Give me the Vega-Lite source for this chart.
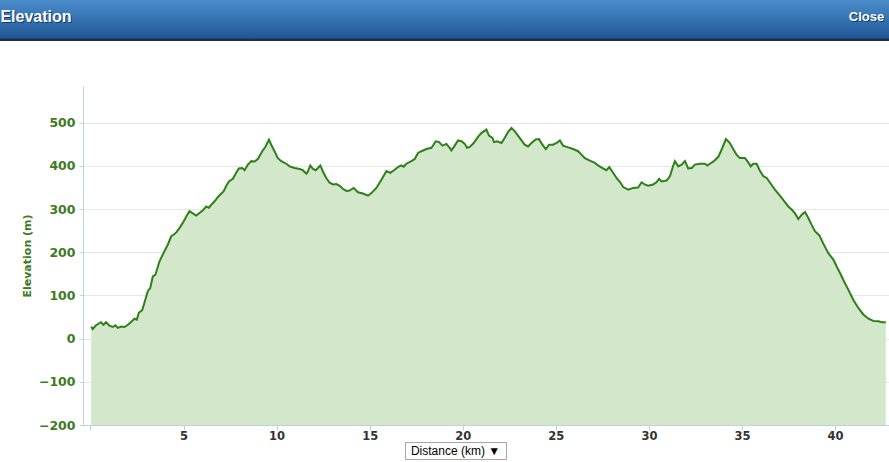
{
  "$schema": "https://vega.github.io/schema/vega-lite/v6.json",
  "padding": 0,
  "background": "white",
  "spacing": 45,
  "config": {"view": {"stroke": null}},
  "vconcat": [
    {
      "spacing": 0,
      "hconcat": [
        {
          "width": 77, "height": 41,
          "data": {"values": [{"label": "Elevation"}]},
          "layer": [
            {"mark": {"type": "rect", "color": {"gradient": "linear", "x1": 0, "y1": 0, "x2": 0, "y2": 1, "stops": [{"offset": 0, "color": "#4c8dcb"}, {"offset": 0.93, "color": "#1f5796"}, {"offset": 0.955, "color": "#1a2f48"}, {"offset": 1, "color": "#1a2f48"}]}}},
            {"mark": {"type": "text", "color": "#173a63", "font": "Liberation Sans", "fontSize": 16, "fontWeight": "bold", "dx": -1.5, "dy": -3}, "encoding": {"text": {"field": "label"}}},
            {"mark": {"type": "text", "color": "#ffffff", "font": "Liberation Sans", "fontSize": 16, "fontWeight": "bold", "dx": -2.5, "dy": -4}, "encoding": {"text": {"field": "label"}}}
          ]
        },
        {
          "width": 767, "height": 41,
          "data": {"values": [{"label": ""}]},
          "mark": {"type": "rect", "color": {"gradient": "linear", "x1": 0, "y1": 0, "x2": 0, "y2": 1, "stops": [{"offset": 0, "color": "#4c8dcb"}, {"offset": 0.93, "color": "#1f5796"}, {"offset": 0.955, "color": "#1a2f48"}, {"offset": 1, "color": "#1a2f48"}]}}
        },
        {
          "width": 45, "height": 41,
          "data": {"values": [{"label": "Close"}]},
          "layer": [
            {"mark": {"type": "rect", "color": {"gradient": "linear", "x1": 0, "y1": 0, "x2": 0, "y2": 1, "stops": [{"offset": 0, "color": "#4c8dcb"}, {"offset": 0.93, "color": "#1f5796"}, {"offset": 0.955, "color": "#1a2f48"}, {"offset": 1, "color": "#1a2f48"}]}}},
            {"mark": {"type": "text", "color": "#173a63", "font": "Liberation Sans", "fontSize": 13, "fontWeight": "bold", "dx": 1, "dy": -2.5}, "encoding": {"text": {"field": "label"}}},
            {"mark": {"type": "text", "color": "#ffffff", "font": "Liberation Sans", "fontSize": 13, "fontWeight": "bold", "dy": -3.5}, "encoding": {"text": {"field": "label"}}}
          ]
        }
      ]
    },
    {
      "spacing": -2,
      "vconcat": [
        {
          "spacing": 0,
          "hconcat": [
            {"width": 21, "height": 339, "data": {"values": [{}]}, "mark": {"type": "rect", "opacity": 0}},
            {
              "width": 806, "height": 339,
              "data": {"values": [
                {"km": 0.04, "elevation": 28}, {"km": 0.12, "elevation": 22}, {"km": 0.30, "elevation": 31}, {"km": 0.57, "elevation": 38}, {"km": 0.70, "elevation": 32}, {"km": 0.84, "elevation": 38}, {"km": 1.02, "elevation": 30}, {"km": 1.20, "elevation": 27}, {"km": 1.34, "elevation": 31}, {"km": 1.47, "elevation": 25}, {"km": 1.65, "elevation": 28}, {"km": 1.83, "elevation": 27}, {"km": 2.01, "elevation": 32}, {"km": 2.19, "elevation": 39}, {"km": 2.37, "elevation": 46}, {"km": 2.49, "elevation": 44}, {"km": 2.60, "elevation": 60}, {"km": 2.78, "elevation": 66}, {"km": 2.90, "elevation": 83}, {"km": 3.08, "elevation": 110}, {"km": 3.21, "elevation": 117}, {"km": 3.35, "elevation": 144}, {"km": 3.49, "elevation": 148}, {"km": 3.71, "elevation": 179}, {"km": 3.89, "elevation": 195}, {"km": 4.16, "elevation": 218}, {"km": 4.34, "elevation": 237}, {"km": 4.48, "elevation": 241}, {"km": 4.61, "elevation": 246}, {"km": 4.78, "elevation": 256}, {"km": 4.96, "elevation": 268}, {"km": 5.14, "elevation": 282}, {"km": 5.32, "elevation": 295}, {"km": 5.50, "elevation": 290}, {"km": 5.68, "elevation": 285}, {"km": 5.86, "elevation": 291}, {"km": 6.04, "elevation": 297}, {"km": 6.22, "elevation": 306}, {"km": 6.36, "elevation": 303}, {"km": 6.49, "elevation": 310}, {"km": 6.67, "elevation": 318}, {"km": 6.85, "elevation": 328}, {"km": 7.03, "elevation": 336}, {"km": 7.15, "elevation": 341}, {"km": 7.30, "elevation": 354}, {"km": 7.44, "elevation": 364}, {"km": 7.65, "elevation": 370}, {"km": 7.83, "elevation": 384}, {"km": 7.97, "elevation": 394}, {"km": 8.15, "elevation": 395}, {"km": 8.28, "elevation": 390}, {"km": 8.46, "elevation": 403}, {"km": 8.64, "elevation": 411}, {"km": 8.82, "elevation": 410}, {"km": 8.99, "elevation": 416}, {"km": 9.23, "elevation": 434}, {"km": 9.41, "elevation": 445}, {"km": 9.59, "elevation": 461}, {"km": 9.71, "elevation": 449}, {"km": 9.89, "elevation": 434}, {"km": 10.07, "elevation": 418}, {"km": 10.25, "elevation": 411}, {"km": 10.52, "elevation": 405}, {"km": 10.70, "elevation": 399}, {"km": 10.97, "elevation": 395}, {"km": 11.24, "elevation": 393}, {"km": 11.41, "elevation": 390}, {"km": 11.60, "elevation": 382}, {"km": 11.68, "elevation": 387}, {"km": 11.81, "elevation": 401}, {"km": 11.95, "elevation": 393}, {"km": 12.10, "elevation": 390}, {"km": 12.22, "elevation": 395}, {"km": 12.35, "elevation": 401}, {"km": 12.49, "elevation": 387}, {"km": 12.67, "elevation": 372}, {"km": 12.85, "elevation": 361}, {"km": 13.03, "elevation": 357}, {"km": 13.21, "elevation": 358}, {"km": 13.39, "elevation": 354}, {"km": 13.56, "elevation": 347}, {"km": 13.75, "elevation": 342},
                {"km": 13.92, "elevation": 343}, {"km": 14.14, "elevation": 349}, {"km": 14.37, "elevation": 339}, {"km": 14.64, "elevation": 336}, {"km": 14.91, "elevation": 331}, {"km": 15.09, "elevation": 337}, {"km": 15.36, "elevation": 349}, {"km": 15.63, "elevation": 368}, {"km": 15.90, "elevation": 388}, {"km": 16.11, "elevation": 384}, {"km": 16.34, "elevation": 391}, {"km": 16.58, "elevation": 399}, {"km": 16.70, "elevation": 401}, {"km": 16.83, "elevation": 398}, {"km": 16.97, "elevation": 405}, {"km": 17.24, "elevation": 411}, {"km": 17.42, "elevation": 416}, {"km": 17.60, "elevation": 430}, {"km": 17.78, "elevation": 434}, {"km": 18.05, "elevation": 439}, {"km": 18.32, "elevation": 442}, {"km": 18.55, "elevation": 457}, {"km": 18.73, "elevation": 455}, {"km": 18.91, "elevation": 447}, {"km": 19.12, "elevation": 451}, {"km": 19.30, "elevation": 442}, {"km": 19.39, "elevation": 436}, {"km": 19.57, "elevation": 447}, {"km": 19.75, "elevation": 459}, {"km": 19.93, "elevation": 457}, {"km": 20.11, "elevation": 451}, {"km": 20.23, "elevation": 442}, {"km": 20.38, "elevation": 444}, {"km": 20.59, "elevation": 453}, {"km": 20.82, "elevation": 467}, {"km": 21.00, "elevation": 476}, {"km": 21.27, "elevation": 484}, {"km": 21.41, "elevation": 470}, {"km": 21.60, "elevation": 465}, {"km": 21.68, "elevation": 455}, {"km": 21.84, "elevation": 457}, {"km": 22.08, "elevation": 453}, {"km": 22.26, "elevation": 465}, {"km": 22.44, "elevation": 479}, {"km": 22.62, "elevation": 488}, {"km": 22.80, "elevation": 480}, {"km": 22.97, "elevation": 470}, {"km": 23.16, "elevation": 459}, {"km": 23.33, "elevation": 449}, {"km": 23.51, "elevation": 445}, {"km": 23.69, "elevation": 453}, {"km": 23.92, "elevation": 461}, {"km": 24.10, "elevation": 462}, {"km": 24.28, "elevation": 449}, {"km": 24.46, "elevation": 439}, {"km": 24.64, "elevation": 449}, {"km": 24.85, "elevation": 449}, {"km": 25.04, "elevation": 453}, {"km": 25.22, "elevation": 459}, {"km": 25.39, "elevation": 447}, {"km": 25.66, "elevation": 443}, {"km": 25.93, "elevation": 439}, {"km": 26.20, "elevation": 434}, {"km": 26.38, "elevation": 426}, {"km": 26.56, "elevation": 418}, {"km": 26.83, "elevation": 412}, {"km": 27.10, "elevation": 407}, {"km": 27.27, "elevation": 401}, {"km": 27.51, "elevation": 395}, {"km": 27.72, "elevation": 390}, {"km": 27.87, "elevation": 397}, {"km": 28.08, "elevation": 384}, {"km": 28.26, "elevation": 372}, {"km": 28.48, "elevation": 361},
                {"km": 28.62, "elevation": 351}, {"km": 28.89, "elevation": 345}, {"km": 29.16, "elevation": 349}, {"km": 29.42, "elevation": 350}, {"km": 29.61, "elevation": 362}, {"km": 29.78, "elevation": 357}, {"km": 29.96, "elevation": 354}, {"km": 30.23, "elevation": 357}, {"km": 30.41, "elevation": 362}, {"km": 30.55, "elevation": 370}, {"km": 30.68, "elevation": 364}, {"km": 30.95, "elevation": 366}, {"km": 31.13, "elevation": 376}, {"km": 31.31, "elevation": 401}, {"km": 31.40, "elevation": 411}, {"km": 31.58, "elevation": 399}, {"km": 31.76, "elevation": 403}, {"km": 31.94, "elevation": 411}, {"km": 32.11, "elevation": 394}, {"km": 32.30, "elevation": 395}, {"km": 32.47, "elevation": 403}, {"km": 32.74, "elevation": 405}, {"km": 33.01, "elevation": 405}, {"km": 33.14, "elevation": 401}, {"km": 33.28, "elevation": 405}, {"km": 33.49, "elevation": 411}, {"km": 33.73, "elevation": 421}, {"km": 33.91, "elevation": 438}, {"km": 34.14, "elevation": 462}, {"km": 34.35, "elevation": 453}, {"km": 34.53, "elevation": 439}, {"km": 34.71, "elevation": 426}, {"km": 34.89, "elevation": 418}, {"km": 35.16, "elevation": 418}, {"km": 35.34, "elevation": 408}, {"km": 35.47, "elevation": 399}, {"km": 35.61, "elevation": 405}, {"km": 35.79, "elevation": 405}, {"km": 35.97, "elevation": 388}, {"km": 36.15, "elevation": 376}, {"km": 36.33, "elevation": 372}, {"km": 36.51, "elevation": 361}, {"km": 36.77, "elevation": 345}, {"km": 37.04, "elevation": 331}, {"km": 37.31, "elevation": 316}, {"km": 37.49, "elevation": 306}, {"km": 37.67, "elevation": 299}, {"km": 37.85, "elevation": 290}, {"km": 38.03, "elevation": 277}, {"km": 38.21, "elevation": 287}, {"km": 38.39, "elevation": 293}, {"km": 38.56, "elevation": 280}, {"km": 38.74, "elevation": 264}, {"km": 38.92, "elevation": 249}, {"km": 39.16, "elevation": 239}, {"km": 39.37, "elevation": 220}, {"km": 39.64, "elevation": 198}, {"km": 39.91, "elevation": 183}, {"km": 40.09, "elevation": 167}, {"km": 40.27, "elevation": 152}, {"km": 40.48, "elevation": 133}, {"km": 40.72, "elevation": 113}, {"km": 40.98, "elevation": 90}, {"km": 41.25, "elevation": 71}, {"km": 41.52, "elevation": 56}, {"km": 41.80, "elevation": 46}, {"km": 42.06, "elevation": 41}, {"km": 42.33, "elevation": 40}, {"km": 42.51, "elevation": 38}, {"km": 42.73, "elevation": 38}
              ]},
              "encoding": {
                "x": {
                  "field": "km", "type": "quantitative",
                  "scale": {"domain": [-0.4, 42.9], "nice": false, "zero": false},
                  "axis": {"values": [0, 5, 10, 15, 20, 25, 30, 35, 40], "title": null, "grid": false, "domainColor": "#c0d0e0", "tickColor": "#c0d0e0", "tickSize": 5, "labelFont": "DejaVu Sans", "labelFontWeight": "bold", "labelFontSize": 11.5, "labelColor": "#333333", "labelPadding": 0, "labelFlush": false, "labelExpr": "datum.value == 0 ? '' : datum.label"}
                },
                "y": {
                  "field": "elevation", "type": "quantitative",
                  "scale": {"domain": [-200, 585], "nice": false},
                  "axis": {"values": [-200, -100, 0, 100, 200, 300, 400, 500], "title": "Elevation (m)", "titleFont": "DejaVu Sans", "titleFontSize": 11, "titleFontWeight": "bold", "titleColor": "#3d7a1e", "titlePadding": 6, "labelFont": "DejaVu Sans", "labelFontSize": 12.5, "labelFontWeight": "bold", "labelColor": "#3d7a1e", "labelPadding": 4, "labelFlush": false, "tickSize": 4, "tickColor": "#c0d0e0", "domainColor": "#c0d0e0", "gridColor": "#e6e6e6"}
                }
              },
              "layer": [
                {"mark": {"type": "area", "color": "#d3e7cb", "opacity": 1}, "encoding": {"y2": {"datum": -200}}},
                {"mark": {"type": "line", "color": "#2f7f1a", "strokeWidth": 2}}
              ]
            }
          ]
        },
        {
          "spacing": 0,
          "hconcat": [
            {"width": 404, "height": 17, "data": {"values": [{}]}, "mark": {"type": "rect", "opacity": 0}},
            {
              "width": 101, "height": 17,
              "view": {"stroke": "#a6a6a6", "fill": "#ffffff"},
              "data": {"values": [{"label": "Distance (km)  ▼"}]},
              "mark": {"type": "text", "font": "Liberation Sans", "fontSize": 12, "color": "#000000"},
              "encoding": {"text": {"field": "label"}}
            }
          ]
        }
      ]
    }
  ]
}
